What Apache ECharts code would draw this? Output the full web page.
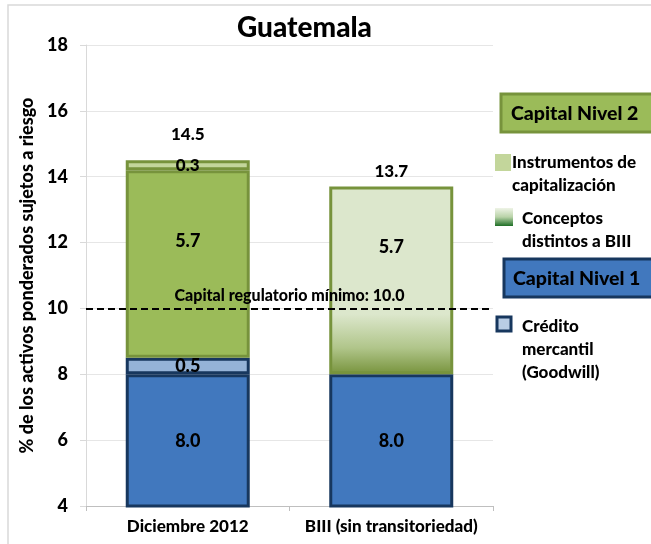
<!DOCTYPE html>
<html lang="es">
<head>
<meta charset="UTF-8">
<title>Guatemala</title>
<script src="https://cdn.jsdelivr.net/npm/echarts@6/dist/echarts.min.js"></script>
<style>
  html, body { margin: 0; padding: 0; background: #fff; }
  #main { width: 651px; height: 544px; }
</style>
</head>
<body>
<div id="main"></div>
<script>
// datos
var categories = ['Diciembre 2012', 'BIII (sin transitoriedad)'];
var nivel1 = [8.0, 8.0];
var goodwill = [0.5, '-'];
var nivel2 = [5.7, '-'];
var conceptos = ['-', 5.7];
var instrumentos = [0.3, '-'];
var totales = [14.5, 13.7];
var minimo = 10.0;

var FONT = 'Lato';
var W = 900;
var blue = '#4178BE', navy = '#17375E', lightBlue = '#95B3D7';
var green = '#9BBB59', darkGreen = '#77933C', lightGreen = '#C3D69B';

function fmt(p) { return Number(p.value).toFixed(1); }

var lbl = { show: true, position: 'inside', formatter: fmt, color: '#000',
  fontFamily: FONT, fontWeight: W, fontSize: 18 };

var chart = echarts.init(document.getElementById('main'));
chart.setOption({
  animation: false,
  title: {
    text: 'Guatemala', left: 232, top: 9,
    textStyle: { fontFamily: FONT, fontWeight: W, fontSize: 28, color: '#000' }
  },
  grid: { left: 86, top: 45, right: 158, bottom: 38 },
  xAxis: {
    type: 'category', data: categories,
    axisLine: { lineStyle: { color: '#BFBFBF' } },
    axisTick: { show: true, length: 5, lineStyle: { color: '#BFBFBF' } },
    axisLabel: { interval: 0, fontFamily: FONT, fontWeight: W, fontSize: 17, color: '#000', margin: 12 }
  },
  yAxis: {
    type: 'value', min: 4, max: 18, interval: 2,
    name: '% de los activos ponderados sujetos a riesgo',
    nameLocation: 'middle', nameGap: 50,
    nameTextStyle: { fontFamily: FONT, fontWeight: W, fontSize: 18, color: '#000' },
    axisLine: { show: true, lineStyle: { color: '#D9D9D9' } },
    axisTick: { show: true, length: 6, lineStyle: { color: '#D9D9D9' } },
    splitLine: { lineStyle: { color: '#E6E6E6' } },
    axisLabel: { fontFamily: FONT, fontWeight: W, fontSize: 18, color: '#000', margin: 18 }
  },
  series: [
    {
      name: 'Capital Nivel 1', type: 'bar', stack: 'c', data: nivel1, barWidth: 124,
      itemStyle: { color: blue, borderColor: navy, borderWidth: 3 },
      label: lbl,
      markLine: {
        symbol: 'none', silent: true,
        data: [{ yAxis: minimo }],
        lineStyle: { color: '#000', type: [7, 4], width: 2 },
        label: {
          position: 'middle', distance: 5, formatter: 'Capital regulatorio mínimo: 10.0',
          fontFamily: FONT, fontWeight: W, fontSize: 16, color: '#000'
        }
      }
    },
    {
      name: 'Crédito mercantil (Goodwill)', type: 'bar', stack: 'c', data: goodwill,
      itemStyle: { color: lightBlue, borderColor: navy, borderWidth: 3 },
      label: lbl
    },
    {
      name: 'Capital Nivel 2', type: 'bar', stack: 'c', data: nivel2,
      itemStyle: { color: green, borderColor: darkGreen, borderWidth: 3 },
      label: Object.assign({}, lbl, { offset: [0, -23] })
    },
    {
      name: 'Conceptos distintos a BIII', type: 'bar', stack: 'c', data: conceptos,
      itemStyle: {
        borderColor: darkGreen, borderWidth: 3,
        color: new echarts.graphic.LinearGradient(0, 0, 0, 1, [
          { offset: 0, color: '#DCE7CC' },
          { offset: 0.68, color: '#DCE7CC' },
          { offset: 0.86, color: '#B0C58A' },
          { offset: 1, color: '#77933C' }
        ])
      },
      label: Object.assign({}, lbl, { offset: [0, -33] })
    },
    {
      name: 'Instrumentos de capitalización', type: 'bar', stack: 'c', data: instrumentos,
      itemStyle: { color: lightGreen, borderColor: darkGreen, borderWidth: 3 },
      label: Object.assign({}, lbl, { fontSize: 17 })
    },
    {
      name: 'Total', type: 'scatter', symbolSize: 0, silent: true,
      data: totales.map(function (v, i) {
        return { value: v, label: { show: true, position: 'top', distance: [17, 7][i],
          formatter: fmt, color: '#000', opacity: 1,
          fontFamily: FONT, fontWeight: W, fontSize: 17 } };
      }),
      itemStyle: { opacity: 1 },
      label: { show: true, color: '#000' }
    }
  ],
  graphic: [
    { type: 'rect', shape: { x: 8, y: 5, width: 700, height: 600 }, silent: true,
      style: { fill: 'none', stroke: '#D9D9D9', lineWidth: 1.5 } },
    { type: 'rect', shape: { x: 501, y: 94, width: 160, height: 38 },
      style: { fill: green, stroke: darkGreen, lineWidth: 3 } },
    { type: 'text', x: 511, y: 114, style: { text: 'Capital Nivel 2', fill: '#000',
      font: W + ' 19.5px ' + FONT, verticalAlign: 'middle' } },
    { type: 'rect', shape: { x: 495, y: 154, width: 16, height: 17 },
      style: { fill: lightGreen } },
    { type: 'text', x: 512, y: 151, style: { text: 'Instrumentos de\ncapitalización', fill: '#000',
      font: W + ' 17px ' + FONT, lineHeight: 23 } },
    { type: 'rect', shape: { x: 495, y: 208, width: 18, height: 18 },
      style: { fill: new echarts.graphic.LinearGradient(0, 0, 0, 1, [
        { offset: 0, color: '#EEF3E6' }, { offset: 0.5, color: '#B9D3A8' }, { offset: 1, color: '#1E6E26' }
      ]) } },
    { type: 'text', x: 522, y: 207, style: { text: 'Conceptos\ndistintos a BIII', fill: '#000',
      font: W + ' 17px ' + FONT, lineHeight: 23 } },
    { type: 'rect', shape: { x: 504, y: 259, width: 160, height: 38 },
      style: { fill: blue, stroke: navy, lineWidth: 3 } },
    { type: 'text', x: 513, y: 279, style: { text: 'Capital Nivel 1', fill: '#000',
      font: W + ' 19.5px ' + FONT, verticalAlign: 'middle' } },
    { type: 'rect', shape: { x: 497, y: 317, width: 14, height: 14 },
      style: { fill: '#B9CDE5', stroke: navy, lineWidth: 3 } },
    { type: 'text', x: 522, y: 315, style: { text: 'Crédito\nmercantil\n(Goodwill)', fill: '#000',
      font: W + ' 17px ' + FONT, lineHeight: 23 } }
  ]
});
</script>
</body>
</html>
